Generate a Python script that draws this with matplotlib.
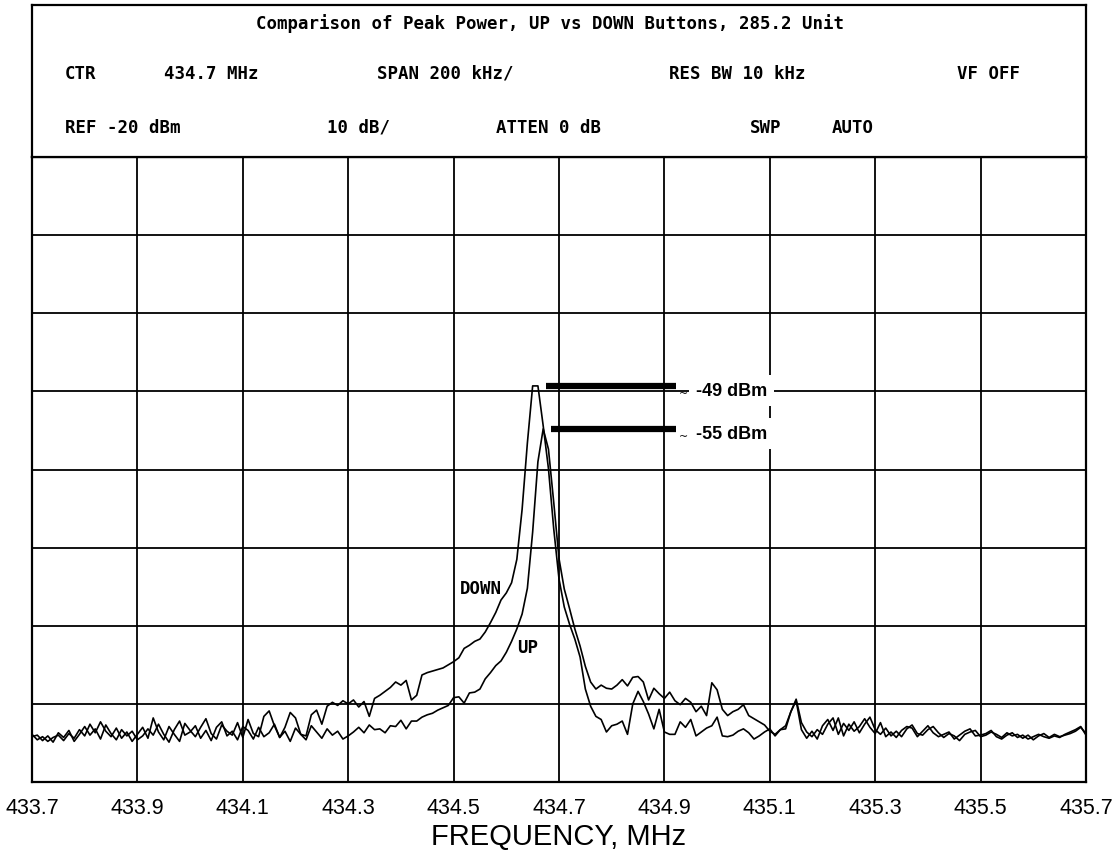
import numpy as np
import matplotlib.pyplot as plt

# sweep: 433.7 .. 435.7 MHz, 201 points (10 kHz apart)
freq = np.linspace(433.7, 435.7, 201)

# trace readings in dBm, DOWN button
down = [-93.9, -94.6, -94.2, -94.8, -94.3, -94.0, -94.7, -93.8, -94.4, -93.3,
        -94.1, -92.6, -93.7, -92.3, -93.5, -94.2, -93.1, -94.4, -93.6, -94.8,
        -93.9,
        -93.0, -94.4, -91.8, -93.6, -94.6, -92.9, -93.9, -94.8, -92.5, -93.4,
        -94.2, -93.0, -91.9, -93.8, -94.5, -92.7, -93.5, -94.0, -92.4, -94.3,
        -92.0, -93.8, -94.2, -91.6, -90.9, -92.8, -94.3, -93.0, -91.1, -91.8,
        -93.9, -94.1, -91.4, -90.8,
        -92.6, -90.3, -89.8, -90.2, -89.6, -90.0, -89.5, -90.4, -89.7, -91.6,
        -89.3, -88.9, -88.4, -87.9, -87.2, -87.6, -87.0, -89.5, -88.9,
        -86.3, -86.0, -85.8, -85.6, -85.4, -85.0, -84.6, -84.1, -82.9, -82.5,
        -82.0, -81.7, -80.8, -79.6, -78.3, -76.7, -75.8, -74.5, -71.5, -65.1,
        -56.6, -49.3, -49.3,
        -54.4, -59.9, -67.6, -74.0, -77.6, -79.8, -81.7, -84.0, -88.1, -90.3,
        -91.6, -92.0, -93.6, -92.8, -92.6, -92.2, -93.9, -90.0, -88.4, -89.7,
        -91.3, -93.2, -90.7, -93.6,
        -93.9, -93.9, -92.3, -93.0, -92.0, -94.1, -93.6, -93.1, -92.8, -91.7,
        -94.1, -94.2, -94.0, -93.5, -93.2, -93.7, -94.5, -94.1, -93.6, -93.2,
        -94.1, -93.3, -93.2, -91.0, -89.6,
        -93.3, -94.4, -93.5, -94.5, -92.8, -92.0, -93.4, -91.8, -94.1, -92.6,
        -93.5, -92.9, -91.9, -93.0, -93.8, -92.4, -94.2, -93.6, -94.3, -93.4,
        -92.9, -93.1, -94.2, -93.5, -92.8, -93.7, -94.2, -93.9, -93.6, -94.5,
        -94.0, -93.5, -93.2, -94.1, -94.0, -93.8, -93.4, -94.2, -94.5, -94.0,
        -93.7, -94.3, -94.0, -94.5, -94.2, -93.9, -94.2, -94.4, -94.1, -94.3,
        -93.9, -93.6, -93.3, -92.9, -94.0]

# trace readings in dBm, UP button
up = [-94.2, -94.0, -94.7, -94.1, -94.9, -93.7, -94.3, -93.4, -94.8, -93.9,
      -92.9, -94.0, -93.2, -94.5, -92.7, -93.8, -94.6, -93.3, -94.1, -93.5,
      -94.6,
      -94.1, -93.2, -94.0, -92.6, -93.9, -94.9, -93.3, -92.2, -94.0, -93.6,
      -92.8, -94.4, -93.4, -94.7, -93.0, -92.3, -94.1, -93.5, -94.6, -92.9,
      -93.4, -94.5, -93.0, -94.2, -93.7, -92.6, -94.3, -93.5, -94.8, -93.1,
      -93.9, -94.6, -92.8, -93.6, -94.4, -93.2, -94.0, -93.5, -94.5,
      -94.1, -93.6, -93.0, -93.7, -92.7, -93.3, -93.2, -93.7, -92.8, -92.9,
      -92.1, -93.2, -92.2, -92.2, -91.7, -91.4, -91.2, -90.8, -90.5, -90.2,
      -89.2,
      -89.1, -89.9, -88.6, -88.5, -88.1, -86.8, -86.0, -85.1, -84.5, -83.4,
      -82.0, -80.4, -78.5, -75.2, -68.0, -59.0, -54.8, -57.4, -64.2, -71.4,
      -75.3, -77.8, -80.4, -82.6, -85.2, -87.2,
      -88.1, -87.6, -88.0, -88.1, -87.6, -86.9, -87.7, -86.6, -86.5, -87.2,
      -89.5, -88.0, -88.7, -89.3, -88.5, -89.6, -90.1, -89.3, -89.8, -91.0,
      -90.3, -91.5, -87.3, -88.2, -90.7, -91.5, -91.0, -90.7, -90.1, -91.5,
      -91.9, -92.3, -92.7, -93.5, -93.9, -93.3, -92.8, -91.0, -89.4,
      -92.4, -93.6, -94.2, -93.3, -93.9, -92.6, -91.8, -93.9, -92.5, -93.4,
      -92.3, -93.7, -92.6, -91.7, -93.3, -93.9, -93.1, -94.1, -93.5, -94.2,
      -93.2, -92.7, -93.8, -94.0, -93.3, -92.9, -93.7, -94.3, -93.8, -94.1,
      -94.7, -93.9, -93.6, -93.4, -94.2, -94.0, -93.6, -93.9, -94.3, -93.7,
      -94.1, -93.9, -94.4, -94.0, -94.6, -94.1, -93.8, -94.3, -93.9, -94.2,
      -94.0, -93.8, -93.5, -93.0, -93.8]

tick_freqs = [433.7, 433.9, 434.1, 434.3, 434.5, 434.7, 434.9, 435.1, 435.3, 435.5, 435.7]
tick_labels = ['433.7', '433.9', '434.1', '434.3', '434.5', '434.7',
               '434.9', '435.1', '435.3', '435.5', '435.7']

title = "Comparison of Peak Power, UP vs DOWN Buttons, 285.2 Unit"
# header entries: (text, left pixel, centre pixel y)
header = [("CTR", 65, 74), ("434.7 MHz", 164, 74), ("SPAN 200 kHz/", 377, 74),
          ("RES BW 10 kHz", 669, 74), ("VF OFF", 957, 74),
          ("REF -20 dBm", 65, 128), ("10 dB/", 327, 128), ("ATTEN 0 dB", 496, 128),
          ("SWP", 750, 128), ("AUTO", 832, 128)]

W, H = 1115, 853
fig = plt.figure(figsize=(W / 100, H / 100), dpi=100)

ax = fig.add_axes([32 / W, 1 - 783 / H, 1054 / W, 625 / H])
hdr = fig.add_axes([32 / W, 1 - 158 / H, 1054 / W, 152 / H])

mono = dict(family='DejaVu Sans Mono', weight='bold', size=12.5)

# header box
hdr.set_xticks([])
hdr.set_yticks([])
for s in hdr.spines.values():
    s.set_linewidth(1.6)
fig.text(550 / W, 1 - 24 / H, title, ha='center', va='center', **mono)
for txt, px, py in header:
    fig.text(px / W, 1 - py / H, txt, ha='left', va='center', **mono)

# traces
ax.plot(freq, down, color='k', lw=1.2)
ax.plot(freq, up, color='k', lw=1.2)

ax.set_xlim(433.7, 435.7)
ax.set_ylim(-100, -20)
ax.set_xticks(tick_freqs)
ax.set_xticklabels(tick_labels, family='Liberation Sans', size=15.5)
ax.set_yticks(np.arange(-100, -19, 10))
ax.tick_params(length=0, labelleft=False, pad=11)
ax.grid(True, color='k', lw=1.3)
for s in ax.spines.values():
    s.set_linewidth(1.6)
ax.set_xlabel("FREQUENCY, MHz", family='Liberation Sans', size=21, labelpad=3)

# peak markers
pk_down = max(down)
pk_up = max(up)
ax.plot([434.675, 434.922], [pk_down, pk_down], color='k', lw=4.5, solid_capstyle='butt')
ax.plot([434.685, 434.922], [pk_up, pk_up], color='k', lw=4.5, solid_capstyle='butt')
box = dict(fc='white', ec='none', pad=5)
for pk, lab in [(pk_down, '-49 dBm'), (pk_up, '-55 dBm')]:
    ax.text(434.960, pk - 0.6, lab, ha='left', va='center', size=13, weight='bold',
            family='Liberation Sans', bbox=box, zorder=4)
    ax.text(434.937, pk - 0.9, '~', ha='center', va='center', size=8, zorder=5)

ax.text(434.552, -75.2, 'DOWN', ha='center', va='center', **mono)
ax.text(434.641, -82.7, 'UP', ha='center', va='center', **mono)

fig.savefig('out.png', dpi=100)
